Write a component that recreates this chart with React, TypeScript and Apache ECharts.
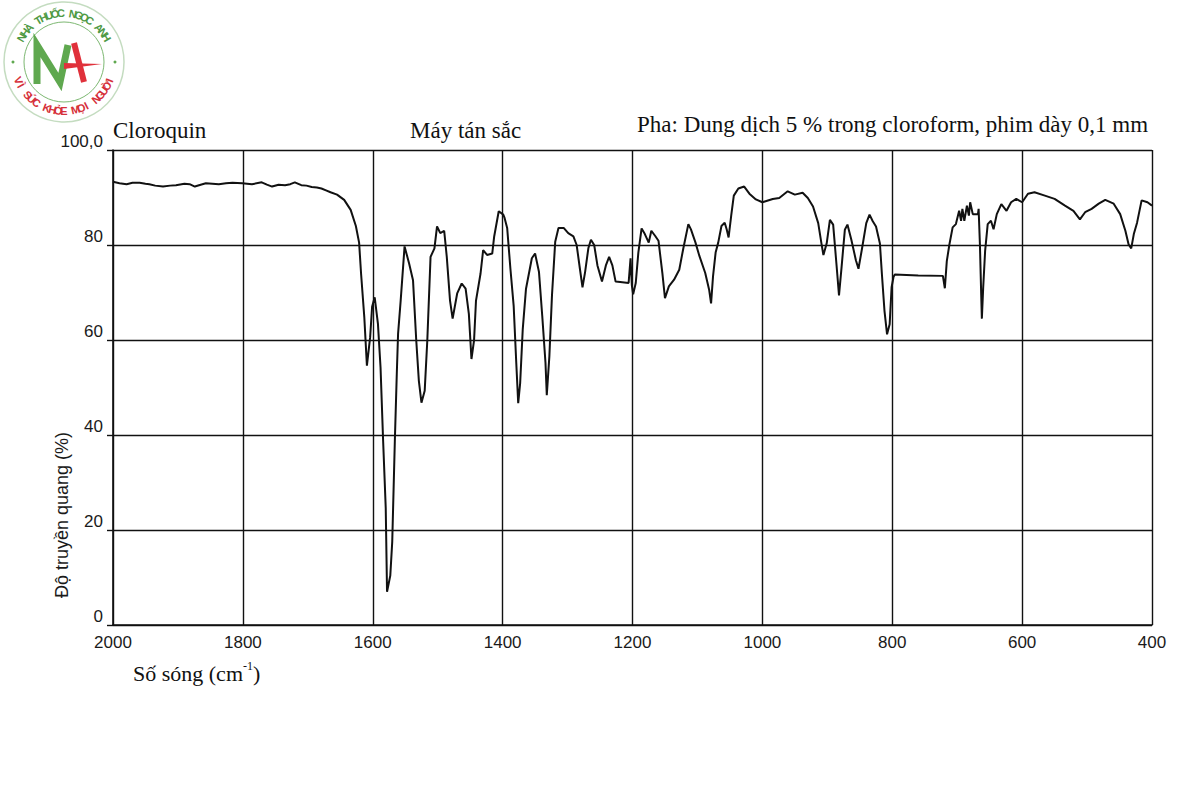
import React, { useEffect, useRef } from "react";
import * as echarts from "echarts";

// Wavenumbers (cm-1) and transmittance (%)
const wavenumbers: number[] = [
  2000, 1990, 1979, 1970, 1959, 1950, 1944, 1935, 1923, 1912, 1903, 1890, 1882, 1874, 1865, 1857, 1847, 1837, 1826, 1816,
  1801, 1786, 1771, 1763, 1755, 1745, 1735, 1727, 1720, 1710, 1702, 1694, 1686, 1679, 1672, 1665, 1655, 1644, 1634, 1626,
  1621, 1618, 1613, 1609, 1604, 1601, 1597, 1592, 1588, 1584, 1580, 1578, 1573, 1570, 1566, 1563, 1561, 1557, 1551, 1544,
  1538, 1533, 1529, 1525, 1520, 1516, 1511, 1505, 1501, 1496, 1490, 1486, 1481, 1477, 1470, 1463, 1457, 1452, 1448, 1444,
  1441, 1434, 1430, 1424, 1416, 1413, 1406, 1399, 1397, 1393, 1388, 1383, 1379, 1376, 1373, 1369, 1364, 1355, 1350, 1344,
  1339, 1334, 1332, 1328, 1324, 1319, 1314, 1306, 1299, 1291, 1286, 1281, 1277, 1273, 1268, 1264, 1259, 1254, 1247, 1241,
  1236, 1231, 1226, 1219, 1206, 1203, 1201, 1199, 1195, 1191, 1186, 1181, 1175, 1171, 1165, 1160, 1154, 1150, 1144, 1136,
  1128, 1122, 1114, 1110, 1103, 1097, 1088, 1082, 1079, 1076, 1072, 1068, 1063, 1058, 1055, 1052, 1048, 1044, 1037, 1028,
  1020, 1010, 1000, 984, 974, 961, 950, 938, 930, 922, 914, 909, 906, 901, 896, 891, 886, 882, 878, 873,
  869, 863, 856, 852, 847, 840, 835, 830, 825, 819, 816, 812, 808, 804, 801, 798, 796, 760, 722, 719,
  716, 712, 707, 702, 697, 694, 692, 689, 685, 682, 680, 676, 668, 667, 665, 663, 662, 660, 657, 653,
  648, 644, 639, 632, 624, 617, 609, 600, 591, 581, 565, 550, 534, 521, 511, 503, 493, 482, 472, 459,
  449, 441, 436, 432, 428, 423, 416, 407, 400,
];

const transmittance: number[] = [
  93.3, 93.0, 92.8, 93.1, 93.1, 92.9, 92.8, 92.5, 92.3, 92.5, 92.6, 92.9, 92.8, 92.3, 92.7, 93.0, 92.9, 92.8, 93.0, 93.1,
  93.0, 92.8, 93.2, 92.7, 92.3, 92.7, 92.6, 92.8, 93.2, 92.6, 92.5, 92.2, 92.1, 91.9, 91.5, 91.1, 90.6, 89.5, 87.4, 84.0,
  80.5, 74.0, 64.8, 54.6, 60.6, 67.0, 69.0, 63.4, 54.2, 38.7, 24.6, 7.0, 10.4, 17.5, 38.7, 52.8, 61.3, 68.3, 79.7, 76.1,
  72.6, 59.9, 51.4, 46.8, 49.3, 59.9, 77.5, 79.3, 83.9, 82.5, 83.0, 77.5, 68.3, 64.5, 69.8, 71.9, 70.8, 65.5, 56.0, 59.9,
  68.3, 74.0, 78.9, 77.9, 78.2, 81.8, 87.1, 86.4, 85.7, 83.6, 75.0, 67.2, 55.2, 46.7, 50.9, 62.3, 70.8, 77.2, 78.2, 74.3,
  65.1, 55.2, 48.4, 56.6, 69.4, 80.7, 83.6, 83.6, 82.5, 81.8, 80.0, 75.0, 71.1, 74.3, 79.3, 81.1, 80.0, 75.7, 72.3, 75.7,
  77.5, 75.7, 72.3, 72.2, 72.0, 77.2, 71.5, 69.6, 72.0, 78.4, 83.5, 82.3, 80.5, 83.0, 81.9, 80.9, 74.1, 68.8, 71.3, 72.7,
  74.8, 79.1, 84.4, 83.3, 80.5, 77.7, 74.1, 70.6, 67.7, 73.4, 78.4, 80.5, 84.0, 84.7, 83.3, 81.6, 86.2, 90.4, 91.9, 92.3,
  90.8, 89.6, 89.0, 89.7, 89.9, 91.3, 90.6, 91.0, 89.9, 88.1, 84.6, 80.3, 77.9, 80.3, 85.3, 84.3, 76.1, 69.4, 75.4, 83.2,
  84.3, 81.1, 76.8, 75.0, 78.9, 84.6, 86.4, 85.0, 83.9, 80.3, 74.0, 66.2, 61.2, 63.3, 71.1, 73.3, 73.8, 73.6, 73.5, 70.9,
  76.6, 80.1, 83.7, 84.4, 87.2, 85.1, 87.6, 85.1, 88.3, 86.2, 89.0, 86.5, 86.5, 87.6, 80.1, 69.5, 64.5, 70.9, 78.7, 84.4,
  85.1, 83.3, 86.5, 88.6, 87.2, 89.0, 89.7, 89.0, 90.8, 91.1, 90.4, 89.7, 88.3, 87.2, 85.4, 86.9, 87.6, 88.7, 89.5, 88.7,
  86.5, 83.0, 80.1, 79.3, 82.3, 84.7, 89.4, 89.0, 88.3,
];

const xTicks: number[] = [2000, 1800, 1600, 1400, 1200, 1000, 800, 600, 400];
const yTicks: number[] = [0, 20, 40, 60, 80, 100];

const titleLeft = "Cloroquin";
const titleCenter = "Máy tán sắc";
const titleRight = "Pha: Dung dịch 5 % trong cloroform, phim dày 0,1 mm";
const yName = "Độ truyền quang (%)";
const logoTop = "NHÀ THUỐC NGỌC ANH";
const logoBottom = "VÌ SỨC KHỎE MỌI NGƯỜI";

const SERIF = "'Liberation Serif', 'Times New Roman', serif";
const SANS = "'Liberation Sans', Arial, sans-serif";

function arcText(text: string, cx: number, cy: number, r: number, a0: number, a1: number, top: boolean, color: string) {
  const chars = Array.from(text);
  const n = chars.length;
  return chars.map((ch, i) => {
    const deg = a0 + ((a1 - a0) * i) / (n - 1);
    const th = (deg * Math.PI) / 180;
    return {
      type: "text",
      x: cx + r * Math.cos(th),
      y: cy - r * Math.sin(th),
      rotation: top ? th - Math.PI / 2 : th - (3 * Math.PI) / 2,
      style: {
        text: ch,
        fill: color,
        fontFamily: "'Liberation Sans Narrow', 'Liberation Sans', Arial, sans-serif",
        fontSize: 11,
        fontWeight: "bold",
        align: "center",
        verticalAlign: "middle",
      },
    };
  });
}

export default function App() {
  const ref = useRef<HTMLDivElement>(null);
  useEffect(() => {
    if (!ref.current) return;
    const chart = echarts.init(ref.current, null, { renderer: "svg" });
    const data = wavenumbers.map((w, i) => [w, transmittance[i]]);
    const cx = 64, cy = 62;
    chart.setOption({
      animation: false,
      backgroundColor: "#ffffff",
      grid: { left: 113, right: 48, top: 150, bottom: 175, containLabel: false },
      xAxis: {
        type: "value",
        min: 400,
        max: 2000,
        interval: 200,
        inverse: true,
        axisLine: { show: true, onZero: false, lineStyle: { color: "#111", width: 1.6 } },
        axisTick: { show: false },
        axisLabel: {
          fontFamily: SANS,
          fontSize: 17,
          color: "#1a1a1a",
          margin: 9,
          formatter: (v: number) => (xTicks.includes(v) ? String(v) : ""),
        },
        splitLine: { show: true, lineStyle: { color: "#111", width: 1.4 } },
      },
      yAxis: {
        type: "value",
        min: 0,
        max: 100,
        interval: 20,
        axisLine: { show: true, lineStyle: { color: "#111", width: 1.6 } },
        axisTick: { show: true, length: 6, lineStyle: { color: "#111", width: 1.4 } },
        axisLabel: {
          fontFamily: SANS,
          fontSize: 17,
          color: "#1a1a1a",
          margin: 10,
          verticalAlign: "bottom",
          formatter: (v: number) => (yTicks.includes(v) ? (v === 100 ? "100,0" : String(v)) : ""),
        },
        splitLine: { show: true, lineStyle: { color: "#111", width: 1.4 } },
      },
      series: [
        {
          type: "line",
          data,
          showSymbol: false,
          symbol: "none",
          smooth: false,
          lineStyle: { color: "#111", width: 2 },
        },
      ],
      graphic: [
        { type: "text", left: 113, top: 119, style: { text: titleLeft, font: `23px ${SERIF}`, fill: "#111" } },
        { type: "text", left: 410, top: 119, style: { text: titleCenter, font: `23px ${SERIF}`, fill: "#111" } },
        { type: "text", left: 637, top: 113, style: { text: titleRight, font: `23px ${SERIF}`, fill: "#111" } },
        {
          type: "text",
          x: 62,
          y: 515,
          rotation: Math.PI / 2,
          style: { text: yName, font: `18px ${SANS}`, fill: "#1a1a1a", align: "center", verticalAlign: "middle" },
        },
        {
          type: "text",
          x: 133,
          y: 660,
          style: {
            text: "Số sóng (cm{sup|-1})",
            font: `22px ${SERIF}`,
            fill: "#111",
            lineHeight: 26,
            rich: { sup: { fontSize: 12, fontFamily: SERIF, verticalAlign: "top", fill: "#111" } },
          },
        },
        // logo
        { type: "circle", shape: { cx, cy, r: 60 }, style: { fill: "none", stroke: "#c4dcc0", lineWidth: 1.5 } },
        { type: "circle", shape: { cx, cy, r: 40 }, style: { fill: "none", stroke: "#7db872", lineWidth: 1 } },
        { type: "circle", shape: { cx: cx - 51, cy, r: 1.5 }, style: { fill: "#5fa84f" } },
        { type: "circle", shape: { cx: cx + 51, cy, r: 1.5 }, style: { fill: "#5fa84f" } },
        {
          type: "polyline",
          shape: { points: [[37, 84], [37, 45], [60, 82], [68, 45]] },
          style: { fill: "none", stroke: "#5fa84f", lineWidth: 7, lineJoin: "miter" },
        },
        { type: "line", shape: { x1: 74, y1: 43, x2: 84, y2: 82 }, style: { stroke: "#e0313b", lineWidth: 6 } },
        {
          type: "polygon",
          shape: { points: [[64, 63], [102, 64], [64, 69]] },
          style: { fill: "#e0313b" },
        },
        ...arcText(logoTop, cx, cy, 49, 150, 30, true, "#4f9a45"),
        ...arcText(logoBottom, cx, cy, 49, 202, 338, false, "#d6303a"),
      ],
    });
    return () => chart.dispose();
  }, []);
  return <div ref={ref} style={{ position: "fixed", left: 0, top: 0, width: 1200, height: 800 }} />;
}
